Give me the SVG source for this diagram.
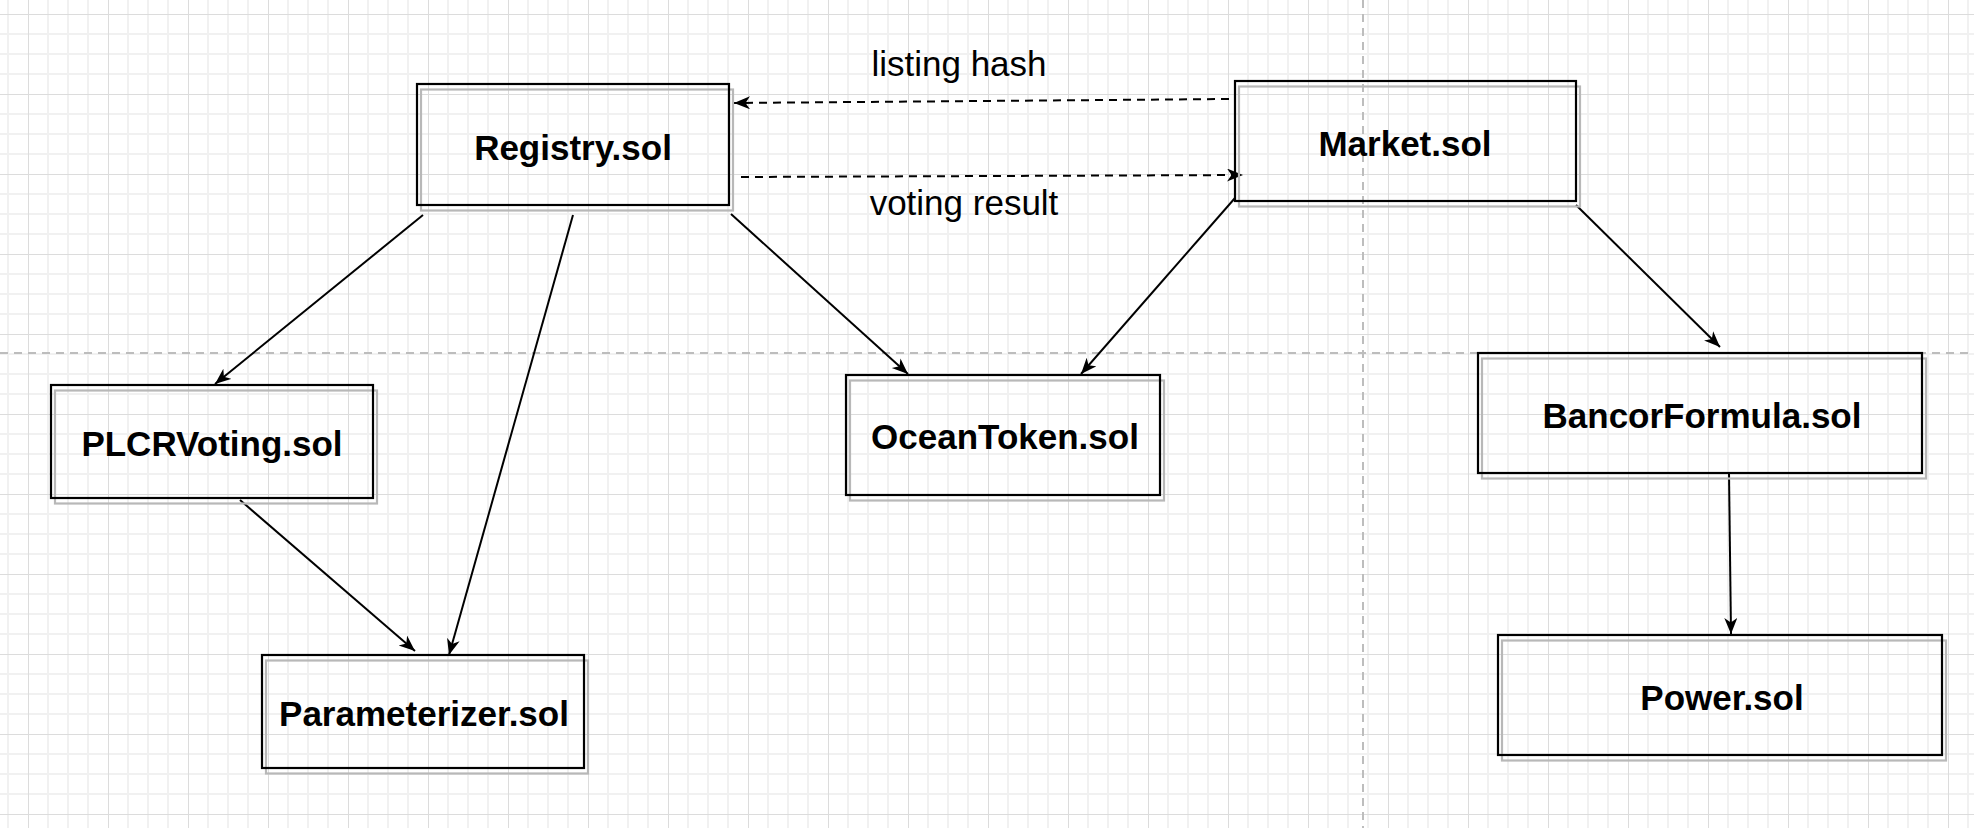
<svg xmlns="http://www.w3.org/2000/svg" width="1974" height="828" viewBox="0 0 1974 828">
  <style>
    .box{fill:none;stroke:#000;stroke-width:2.2}
    .shadow{fill:none;stroke:#b8b8b8;stroke-width:2.2}
    .lbl{font-family:"Liberation Sans",Arial,Helvetica,sans-serif;font-weight:bold;font-size:35px;fill:#000;text-anchor:middle}
    .elbl{font-family:"Liberation Sans",Arial,Helvetica,sans-serif;font-size:35px;fill:#000;text-anchor:middle}
    .edge{fill:none;stroke:#000;stroke-width:2;marker-end:url(#arr)}
    .dash{stroke-dasharray:8 6}
    .guide{fill:none;stroke:#bdbdbd;stroke-width:2;stroke-dasharray:8 6}
  </style>
  <defs>
    <pattern id="grid" patternUnits="userSpaceOnUse" x="28" y="14" width="80" height="80">
      <path d="M20,0V80M40,0V80M60,0V80M0,20H80M0,40H80M0,60H80" stroke="#f1f1f1" stroke-width="2" fill="none"/>
      <path d="M0,0V80M0,0H80" stroke="#dcdcdc" stroke-width="2" fill="none"/>
    </pattern>
    <marker id="arr" markerUnits="userSpaceOnUse" markerWidth="18" markerHeight="14" refX="16" refY="6.5" orient="auto">
      <path d="M0,0 L16,6.5 L0,13 L4.5,6.5 Z" fill="#000"/>
    </marker>
  </defs>
  <rect width="1974" height="828" fill="#fff"/>
  <rect width="1974" height="828" fill="url(#grid)"/>
  <g id="guides">
    <line class="guide" x1="0" y1="353" x2="1974" y2="353"/>
    <line class="guide" x1="1363" y1="0" x2="1363" y2="828"/>
  </g>
  <g id="connectors">
    <line class="edge dash" x1="1229" y1="99" x2="734" y2="103"/>
    <line class="edge dash" x1="741" y1="177" x2="1243" y2="175"/>
    <line class="edge" x1="423" y1="215" x2="215" y2="384"/>
    <line class="edge" x1="573" y1="215" x2="449" y2="655"/>
    <line class="edge" x1="731" y1="214" x2="908" y2="374"/>
    <line class="edge" x1="1235" y1="198" x2="1081" y2="374"/>
    <line class="edge" x1="1576" y1="205" x2="1720" y2="347"/>
    <line class="edge" x1="240" y1="500" x2="415" y2="651"/>
    <line class="edge" x1="1729" y1="473" x2="1731" y2="634"/>
    <text class="elbl" x="959" y="76">listing hash</text>
    <text class="elbl" x="964" y="215">voting result</text>
  </g>
  <g id="registry">
    <rect class="shadow" x="421" y="89.5" width="312" height="121"/>
    <rect class="box" x="417" y="84" width="312" height="121"/>
    <text class="lbl" x="573" y="160">Registry.sol</text>
  </g>
  <g id="market">
    <rect class="shadow" x="1239" y="86.5" width="341" height="120"/>
    <rect class="box" x="1235" y="81" width="341" height="120"/>
    <text class="lbl" x="1405" y="156">Market.sol</text>
  </g>
  <g id="plcrvoting">
    <rect class="shadow" x="55" y="390.5" width="322" height="113"/>
    <rect class="box" x="51" y="385" width="322" height="113"/>
    <text class="lbl" x="212" y="456">PLCRVoting.sol</text>
  </g>
  <g id="parameterizer">
    <rect class="shadow" x="266" y="660.5" width="322" height="113"/>
    <rect class="box" x="262" y="655" width="322" height="113"/>
    <text class="lbl" x="424" y="726">Parameterizer.sol</text>
  </g>
  <g id="oceantoken">
    <rect class="shadow" x="850" y="380.5" width="314" height="120"/>
    <rect class="box" x="846" y="375" width="314" height="120"/>
    <text class="lbl" x="1005" y="449">OceanToken.sol</text>
  </g>
  <g id="bancorformula">
    <rect class="shadow" x="1482" y="358.5" width="444" height="120"/>
    <rect class="box" x="1478" y="353" width="444" height="120"/>
    <text class="lbl" x="1702" y="428">BancorFormula.sol</text>
  </g>
  <g id="power">
    <rect class="shadow" x="1502" y="640.5" width="444" height="120"/>
    <rect class="box" x="1498" y="635" width="444" height="120"/>
    <text class="lbl" x="1722" y="710">Power.sol</text>
  </g>
</svg>
